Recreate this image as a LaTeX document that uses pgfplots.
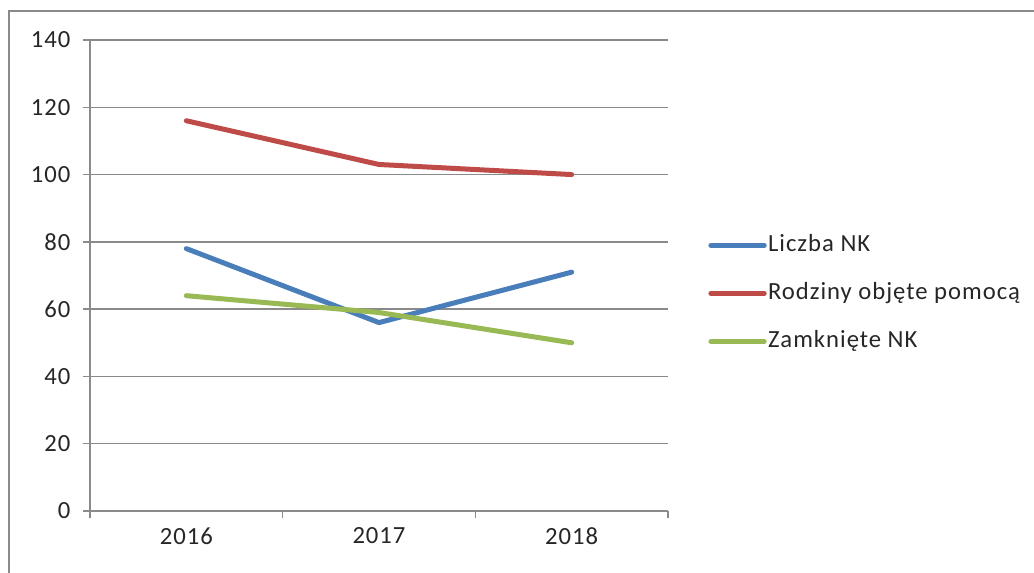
\documentclass[border=0pt]{standalone}
\usepackage{pgfplots}
\pgfplotsset{compat=1.18}
\usepackage{fontspec}
\setmainfont{Carlito}
\newfontfamily\chartfont[LetterSpace=4]{Carlito}
\definecolor{cblue}{HTML}{4A7EBB}
\definecolor{cred}{HTML}{BE4B48}
\definecolor{cgreen}{HTML}{98B954}
\definecolor{cgrid}{HTML}{8A8A8A}
\begin{document}
\begin{tikzpicture}[x=0.75pt,y=0.75pt]
\useasboundingbox (0,0) rectangle (1034,572);
\draw[cgrid, line width=1.2pt] (9,-10) -- (9,561) -- (1044,561);
\begin{axis}[
  at={(67.5pt,45.75pt)}, anchor=south west,
  scale only axis, width=433.5pt, height=353.25pt,
  xmin=-0.5, xmax=2.5, ymin=0, ymax=140,
  ytick={0,20,...,140},
  xtick={-0.5,0.5,1.5,2.5}, xticklabels={},
  extra x ticks={0,1,2}, extra x tick labels={2016,2017,2018},
  extra x tick style={major tick length=0pt, xticklabel style={yshift=-9pt}},
  axis x line*=bottom, axis y line*=left,
  axis line style={cgrid, line width=1.1pt, -},
  ymajorgrids, grid style={cgrid, line width=1.1pt},
  tick align=outside, major tick length=5.25pt,
  tick style={cgrid, line width=1.1pt},
  tick label style={font=\chartfont\fontsize{18.5}{22}\selectfont, text=black!85},
  /pgf/number format/assume math mode=true,
  yticklabel style={xshift=-6pt},
  legend style={at={(1.0625,0.462)}, anchor=west, draw=none, fill=none,
    font=\chartfont\fontsize{18.5}{22}\selectfont, text=black!85, row sep=19pt,
    nodes={inner xsep=1pt, inner ysep=0pt, text height=13pt, text depth=4pt}},
  legend cell align=left,
  legend image code/.code={\draw[#1, line width=3.75pt, line cap=round] (0pt,0pt) -- (40pt,0pt);},
]
\addplot[cblue, line width=3.75pt, line cap=round, line join=round] coordinates {(0,78) (1,56) (2,71)};
\addlegendentry{Liczba NK}
\addplot[cred, line width=3.75pt, line cap=round, line join=round] coordinates {(0,116) (1,103) (2,100)};
\addlegendentry{Rodziny objęte pomocą}
\addplot[cgreen, line width=3.75pt, line cap=round, line join=round] coordinates {(0,64) (1,59) (2,50)};
\addlegendentry{Zamknięte NK}
\end{axis}
\end{tikzpicture}
\end{document}
